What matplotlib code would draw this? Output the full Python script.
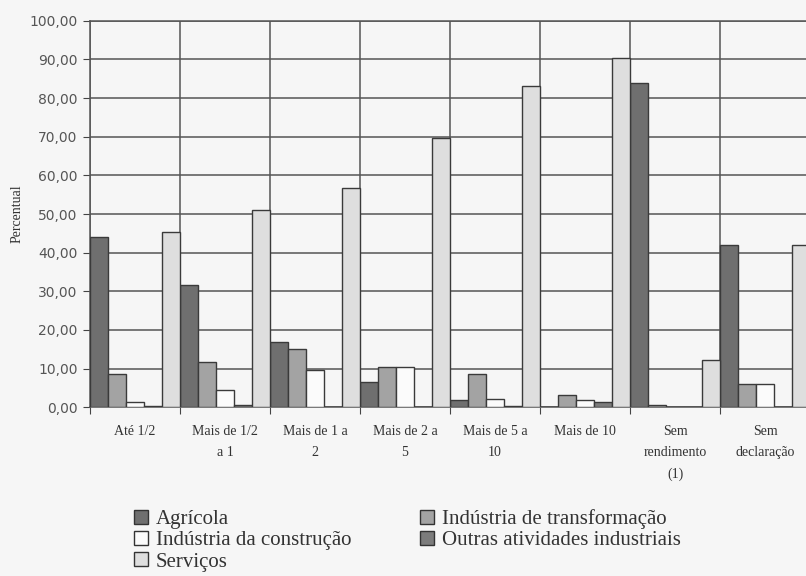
import numpy as np
import matplotlib
matplotlib.use("Agg")
import matplotlib.pyplot as plt
from matplotlib.patches import Patch

categories = ["Até 1/2", "Mais de 1/2\na 1", "Mais de 1 a\n2", "Mais de 2 a\n5",
              "Mais de 5 a\n10", "Mais de 10", "Sem\nrendimento\n(1)", "Sem\ndeclaração"]
series_names = ["Agrícola", "Indústria de transformação", "Indústria da construção",
                "Outras atividades industriais", "Serviços"]
agricola = [44.0, 31.6, 17.0, 6.6, 1.9, 0.2, 83.9, 42.1]
transformacao = [8.6, 11.8, 15.2, 10.5, 8.6, 3.2, 0.5, 5.9]
construcao = [1.3, 4.5, 9.6, 10.5, 2.1, 1.9, 0.2, 6.0]
outras = [0.3, 0.6, 0.1, 0.1, 0.4, 1.4, 0.0, 0.0]
servicos = [45.3, 51.0, 56.6, 69.6, 83.1, 90.4, 12.2, 42.0]
yticks = [0, 10, 20, 30, 40, 50, 60, 70, 80, 90, 100]
ytick_labels = ["0,00", "10,00", "20,00", "30,00", "40,00", "50,00",
                "60,00", "70,00", "80,00", "90,00", "100,00"]

colors = ["#6f6f6f", "#a3a3a3", "#fbfbfb", "#7c7c7c", "#dedede"]
bg = "#f6f6f6"

fig = plt.figure(figsize=(8.06, 5.76), dpi=100, facecolor=bg)
ax = fig.add_axes([90 / 806, 1 - 407.3 / 576, 720 / 806, (407.3 - 20.7) / 576])
ax.set_facecolor(bg)

data = [agricola, transformacao, construcao, outras, servicos]
x = np.arange(len(categories))
w = 0.2
for i, vals in enumerate(data):
    ax.bar(x + w / 2 + i * w, vals, width=w, color=colors[i], edgecolor="#3a3a3a",
           linewidth=1.0, zorder=3)

ax.set_xlim(0, len(categories))
ax.set_ylim(0, 100)
ax.set_yticks(yticks)
ax.set_yticklabels(ytick_labels, fontsize=10, color="#555555", family="DejaVu Sans")
ax.set_xticks(np.arange(len(categories) + 1))
ax.set_xticklabels([])
ax.set_xticks(x + 0.5, minor=True)
ax.set_xticklabels(categories, minor=True, fontsize=10, family="Liberation Serif",
                   color="#333333", linespacing=1.8)
ax.tick_params(axis="x", which="minor", length=0, pad=13)
ax.tick_params(axis="x", which="major", length=5, color="#444444")
ax.tick_params(axis="y", length=5, color="#444444", pad=4)
ax.grid(True, which="major", color="#555555", linewidth=1.1, zorder=0)
for s in ax.spines.values():
    s.set_color("#555555")
    s.set_linewidth(1.1)
ax.set_ylabel("Percentual", family="Liberation Serif", fontsize=10, color="#333333",
              labelpad=4)

handles = [Patch(facecolor=colors[i], edgecolor="#333333", linewidth=1.0) for i in range(5)]
order = [0, 2, 4, 1, 3]
fig.legend([handles[i] for i in order], [series_names[i] for i in order],
           loc="upper left", bbox_to_anchor=(134 / 806, 1 - 509 / 576), ncol=2,
           frameon=False, prop={"family": "Liberation Serif", "size": 15},
           handlelength=0.65, handleheight=0.65, handletextpad=0.4,
           labelspacing=0.1, columnspacing=3.3, borderaxespad=0, borderpad=0,
           labelcolor="#333333")

fig.savefig("out.png", dpi=100, facecolor=bg)
